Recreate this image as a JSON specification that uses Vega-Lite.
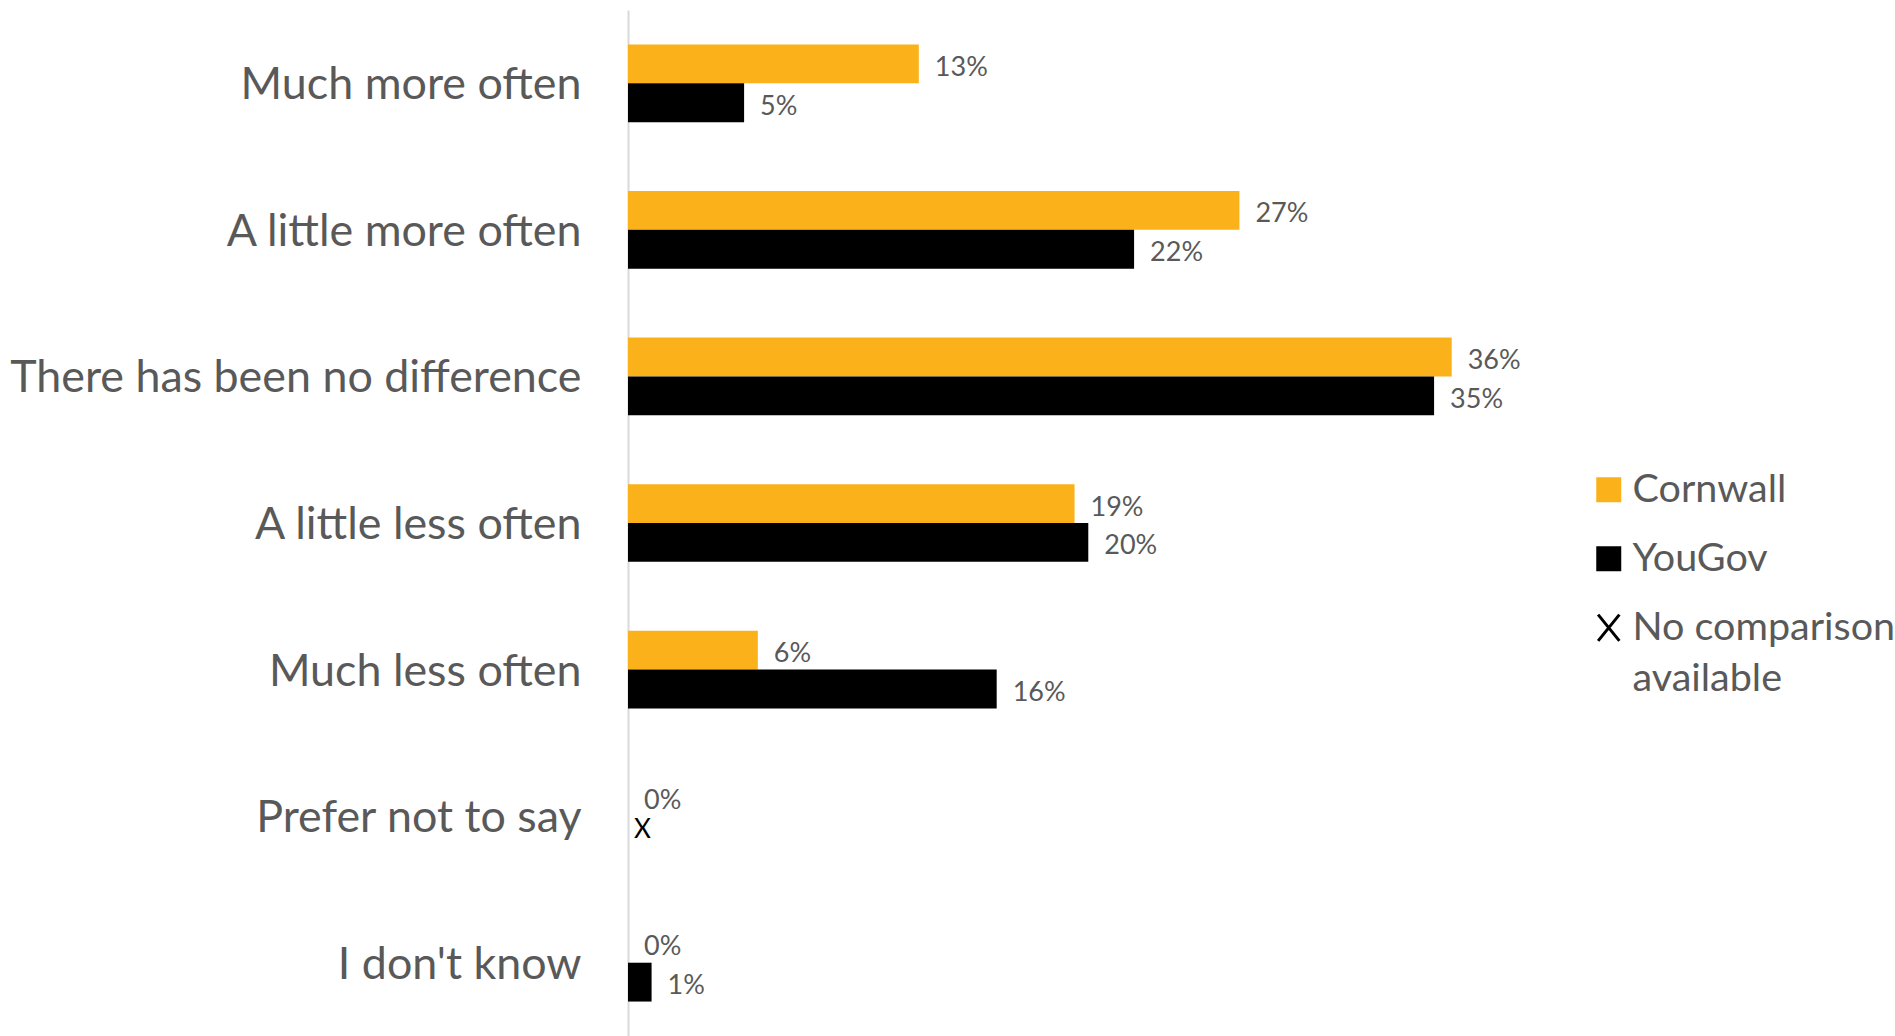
{
  "$schema": "https://vega.github.io/schema/vega-lite/v6.json",
  "width": 916,
  "height": 1026,
  "autosize": {"type": "none"},
  "padding": {"left": 628, "top": 10, "right": 351, "bottom": 0},
  "background": "white",
  "config": {"view": {"stroke": null}, "font": "Lato"},
  "data": {
    "values": [
      {"cat": "Much more often", "source": "Cornwall", "value": 12.7, "label": "13%", "marker": ""},
      {"cat": "Much more often", "source": "YouGov", "value": 5.07, "label": "5%", "marker": ""},
      {"cat": "A little more often", "source": "Cornwall", "value": 26.7, "label": "27%", "marker": ""},
      {"cat": "A little more often", "source": "YouGov", "value": 22.1, "label": "22%", "marker": ""},
      {"cat": "There has been no difference", "source": "Cornwall", "value": 35.97, "label": "36%", "marker": ""},
      {"cat": "There has been no difference", "source": "YouGov", "value": 35.2, "label": "35%", "marker": ""},
      {"cat": "A little less often", "source": "Cornwall", "value": 19.5, "label": "19%", "marker": ""},
      {"cat": "A little less often", "source": "YouGov", "value": 20.1, "label": "20%", "marker": ""},
      {"cat": "Much less often", "source": "Cornwall", "value": 5.67, "label": "6%", "marker": ""},
      {"cat": "Much less often", "source": "YouGov", "value": 16.1, "label": "16%", "marker": ""},
      {"cat": "Prefer not to say", "source": "Cornwall", "value": 0, "label": "0%", "marker": ""},
      {"cat": "Prefer not to say", "source": "YouGov", "value": 0, "label": "", "marker": "X"},
      {"cat": "I don't know", "source": "Cornwall", "value": 0, "label": "0%", "marker": ""},
      {"cat": "I don't know", "source": "YouGov", "value": 1.03, "label": "1%", "marker": ""}
    ]
  },
  "encoding": {
    "y": {
      "field": "cat", "type": "nominal", "sort": null, "title": null,
      "scale": {"paddingInner": 0.47, "paddingOuter": 0.235},
      "axis": {"domainColor": "#d9d9d9", "domainWidth": 2, "ticks": false, "labelFontSize": 44.8, "labelColor": "#595959", "labelPadding": 47, "labelFont": "Lato", "labelLimit": 0, "labelOffset": 3}
    },
    "yOffset": {"field": "source", "type": "nominal", "sort": ["Cornwall", "YouGov"], "scale": {"paddingInner": 0, "paddingOuter": 0}},
    "x": {"field": "value", "type": "quantitative", "scale": {"domain": [0, 40]}, "axis": null}
  },
  "layer": [
    {
      "mark": {"type": "bar"},
      "encoding": {
        "color": {
          "field": "source", "type": "nominal",
          "scale": {"domain": ["Cornwall", "YouGov", "No comparison available"], "range": ["#fbb21a", "#000000", "#000000"]},
          "legend": {
            "title": null, "orient": "none", "legendX": 961, "legendY": 460,
            "symbolType": "square", "symbolSize": 625, "symbolStrokeWidth": 0,
            "labelFontSize": 39.5, "labelColor": "#595959", "labelFont": "Lato", "labelLimit": 0,
            "rowPadding": 28, "labelOffset": 4,
            "labelExpr": "datum.label == 'No comparison available' ? ['No comparison', 'available'] : datum.label",
            "encode": {
              "labels": {"update": {"lineHeight": {"value": 51}}},
              "symbols": {
                "update": {
                  "shape": {"signal": "datum.value == 'No comparison available' ? 'M-0.85,-1.05L0.85,1.05M0.85,-1.05L-0.85,1.05' : 'square'"},
                  "stroke": {"signal": "datum.value == 'No comparison available' ? 'black' : 'transparent'"},
                  "strokeWidth": {"value": 3}
                }
              }
            }
          }
        }
      }
    },
    {
      "transform": [{"filter": "datum.label != ''"}],
      "mark": {"type": "text", "align": "left", "baseline": "middle", "dx": 16, "dy": 4, "fontSize": 27, "color": "#595959", "font": "Lato"},
      "encoding": {"text": {"field": "label"}}
    },
    {
      "transform": [{"filter": "datum.marker == 'X'"}],
      "mark": {"type": "text", "align": "left", "baseline": "middle", "dx": 6, "dy": -6, "fontSize": 26, "color": "#000000", "font": "Lato"},
      "encoding": {"text": {"field": "marker"}}
    }
  ]
}
